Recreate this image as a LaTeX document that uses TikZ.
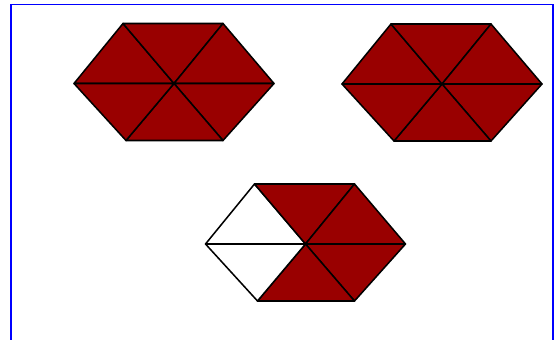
\documentclass[tikz,border=0pt]{standalone}
\usepackage{tikz}

\definecolor{hexred}{RGB}{153,0,0}
\tikzset{tri/.style={draw=black,line width=1.3pt,line join=round}}

\begin{document}
\begin{tikzpicture}[x=0.03cm,y=-0.03cm]
        \useasboundingbox (0,0) rectangle (554,340);
        \draw[blue,line width=1.7pt] (11,345) -- (11,4.5) -- (553,4.5) -- (553,345);
        % three hexagons, the third with two white pieces
        \foreach \cx/\cy/\ca in {174/83.5/hexred, 442/84/hexred, 305.5/244/white} {
            \begin{scope}[shift={(\cx,\cy)}]
                \coordinate (C) at (0,0);
                \coordinate (L) at (-100,0);
                \coordinate (TL) at (-51,-60);
                \coordinate (TR) at (49,-60);
                \coordinate (R) at (100,0);
                \coordinate (BR) at (49,57);
                \coordinate (BL) at (-48,57);
                \foreach \p/\q/\c in {L/TL/\ca, TL/TR/hexred, TR/R/hexred, R/BR/hexred, BR/BL/hexred, BL/L/\ca}
                    \filldraw[tri,fill=\c] (C) -- (\p) -- (\q) -- cycle;
            \end{scope}
        }
    \end{tikzpicture}
\end{document}
